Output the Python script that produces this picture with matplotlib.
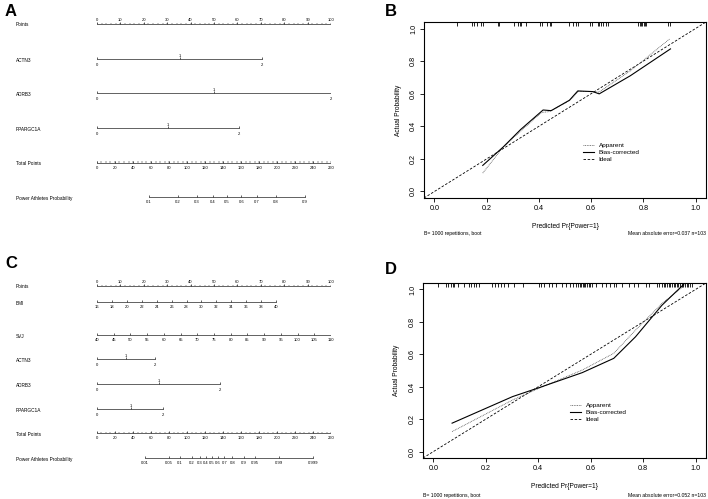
import numpy as np
import matplotlib
matplotlib.use("Agg")
import matplotlib.pyplot as plt
from matplotlib.lines import Line2D
import matplotlib.transforms as mtransforms

plt.rcParams['font.family'] = ['Liberation Sans', 'DejaVu Sans']

W, H = 708, 499

# ---------------- nomogram data ----------------
points_ticks = [0, 10, 20, 30, 40, 50, 60, 70, 80, 90, 100]
total_ticks = [0, 20, 40, 60, 80, 100, 120, 140, 160, 180, 200, 220, 240, 260]
levels = ['0', '1', '2']

# panel A: points for genotype levels 0/1/2
a_actn3 = [0, 35.3, 70.5]
a_adrb3 = [0, 50.0, 100.0]
a_ppargc1a = [0, 30.3, 60.7]
a_prob_ticks = [0.1, 0.2, 0.3, 0.4, 0.5, 0.6, 0.7, 0.8, 0.9]
a_lp_intercept, a_lp_slope = 144.4, 39.4   # total points = a + b*logit(p)

# panel C
c_bmi_ticks = [16, 18, 20, 22, 24, 26, 28, 30, 32, 34, 36, 38, 40]
c_bmi_points = (0, 76.5)
c_svj_ticks = [40, 45, 50, 55, 60, 65, 70, 75, 80, 85, 90, 95, 100, 105, 110]
c_svj_points = (0, 100)
c_actn3 = [0, 12.4, 24.8]
c_adrb3 = [0, 26.5, 52.6]
c_ppargc1a = [0, 14.5, 28.2]
c_prob_ticks = [0.01, 0.05, 0.1, 0.2, 0.3, 0.4, 0.5, 0.6, 0.7, 0.8, 0.9, 0.95, 0.99, 0.999]
c_lp_intercept, c_lp_slope = 127.9, 16.23

# ---------------- calibration data ----------------
b_app_x = [0.185, 0.264, 0.33, 0.41, 0.44, 0.52, 0.55, 0.61, 0.63, 0.75, 0.90]
b_app_y = [0.113, 0.274, 0.37, 0.485, 0.49, 0.56, 0.615, 0.612, 0.61, 0.74, 0.935]
b_bc_x = [0.185, 0.264, 0.33, 0.416, 0.447, 0.517, 0.549, 0.606, 0.631, 0.75, 0.904]
b_bc_y = [0.16, 0.274, 0.38, 0.50, 0.496, 0.56, 0.617, 0.613, 0.599, 0.71, 0.875]
b_rug = [0.086, 0.143, 0.152, 0.162, 0.177, 0.185, 0.245, 0.248, 0.304, 0.321, 0.327,
         0.333, 0.352, 0.406, 0.413, 0.431, 0.441, 0.447, 0.517, 0.532, 0.542, 0.549,
         0.596, 0.603, 0.625, 0.631, 0.637, 0.644, 0.657, 0.663, 0.781, 0.786, 0.791,
         0.796, 0.801, 0.806, 0.811, 0.895, 0.904]

d_app_x = [0.071, 0.302, 0.416, 0.568, 0.688, 0.771, 0.872, 0.961]
d_app_y = [0.123, 0.318, 0.400, 0.503, 0.606, 0.749, 0.914, 1.03]
d_bc_x = [0.071, 0.302, 0.403, 0.568, 0.688, 0.771, 0.872, 0.954]
d_bc_y = [0.175, 0.339, 0.394, 0.487, 0.575, 0.708, 0.903, 1.03]
d_rug = [0.017, 0.048, 0.057, 0.067, 0.074, 0.080, 0.093, 0.118, 0.137, 0.143, 0.156,
         0.162, 0.172, 0.223, 0.234, 0.245, 0.257, 0.270, 0.286, 0.308, 0.340, 0.403,
         0.412, 0.422, 0.441, 0.454, 0.466, 0.492, 0.507, 0.520, 0.532, 0.542, 0.553,
         0.558, 0.564, 0.570, 0.575, 0.580, 0.587, 0.593, 0.599, 0.606, 0.619, 0.644,
         0.659, 0.673, 0.688, 0.695, 0.720, 0.745, 0.764, 0.781, 0.812, 0.821, 0.853,
         0.859, 0.872, 0.878, 0.884, 0.891, 0.897, 0.903, 0.910, 0.916, 0.922, 0.929,
         0.935, 0.941, 0.948, 0.954, 0.960, 0.967, 0.973, 0.979, 0.986]


def box(x0, y0, x1, y1):
    return [x0 / W, 1 - y1 / H, (x1 - x0) / W, (y1 - y0) / H]


fig = plt.figure(figsize=(W / 100, H / 100), dpi=100)

LFS = 3.4   # row label size
TFS = 3.0   # nomogram tick label size
LINE = dict(color='#222222', lw=0.5)


def nomo_axis(ax, y, xs, labels, below=True, minor=None):
    ax.plot([xs[0], xs[-1]], [y, y], **LINE)
    ax.vlines(xs, y - 2, y, **LINE)
    if minor is not None:
        ax.vlines(minor, y - 1.2, y, color='#222222', lw=0.35)
    for x, lab in zip(xs, labels):
        ax.text(x, y + 5 if below else y - 4, lab, fontsize=TFS,
                ha='center', va='center')


def nomo_factor(ax, y, pts):
    ax.plot([pts[0], pts[-1]], [y, y], **LINE)
    ax.vlines(pts, y - 2, y, **LINE)
    for i, (x, lab) in enumerate(zip(pts, levels)):
        ax.text(x, y - 3.5 if i == 1 else y + 5.5, lab, fontsize=TFS,
                ha='center', va='center')


def logit(p):
    p = np.asarray(p)
    return np.log(p / (1 - p))


def nomogram(ax, rows, prob_ticks, lp_a, lp_b, y_tot, y_prob, top):
    ax.set_xlim(0, 100)
    ax.set_ylim(top + 250, top)
    ax.axis('off')
    lab_x = (16 - 97) / 234 * 100
    for name, y, kind, info in rows:
        ax.text(lab_x, y + 1, name, fontsize=LFS, ha='left', va='center')
        if kind == 'points':
            nomo_axis(ax, y, points_ticks, [str(t) for t in points_ticks],
                      below=False, minor=np.arange(0, 101, 2))
        elif kind == 'factor':
            nomo_factor(ax, y, info)
        elif kind == 'cont':
            ticks, (p0, p1) = info
            xs = p0 + (np.array(ticks) - ticks[0]) / (ticks[-1] - ticks[0]) * (p1 - p0)
            nomo_axis(ax, y, xs, [str(t) for t in ticks])
    # total points
    ax.text(lab_x, y_tot + 1, 'Total Points', fontsize=LFS, ha='left', va='center')
    scale = 100 / 260
    nomo_axis(ax, y_tot, np.array(total_ticks) * scale, [str(t) for t in total_ticks],
              minor=np.arange(0, 261, 5) * scale)
    # probability
    ax.text(lab_x, y_prob + 1, 'Power Athletes Probability', fontsize=LFS,
            ha='left', va='center')
    tp = (lp_a + lp_b * logit(prob_ticks)) * scale
    nomo_axis(ax, y_prob, tp, [f'{p:g}' for p in prob_ticks])


# ---- panel A ----
axA = fig.add_axes(box(97, 0, 331, 250))
rowsA = [('Points', 24, 'points', None),
         ('ACTN3', 59.5, 'factor', a_actn3),
         ('ADRB3', 93.5, 'factor', a_adrb3),
         ('PPARGC1A', 128.3, 'factor', a_ppargc1a)]
nomogram(axA, rowsA, a_prob_ticks, a_lp_intercept, a_lp_slope, 162.7, 197.3, 0)

# ---- panel C ----
axC = fig.add_axes(box(97, 250, 331, 499))
axC.set_ylim(499, 250)
rowsC = [('Points', 285.7, 'points', None),
         ('BMI', 302.3, 'cont', (c_bmi_ticks, c_bmi_points)),
         ('SVJ', 335, 'cont', (c_svj_ticks, c_svj_points)),
         ('ACTN3', 359.3, 'factor', c_actn3),
         ('ADRB3', 384, 'factor', c_adrb3),
         ('PPARGC1A', 409.3, 'factor', c_ppargc1a)]
nomogram(axC, rowsC, c_prob_ticks, c_lp_intercept, c_lp_slope, 433.3, 458.3, 250)
axC.set_ylim(499, 250)


# ---------------- calibration plots ----------------
def calib(ax, app_x, app_y, bc_x, bc_y, rug, mae, xl_y, fn_y, yl_x, leg_anchor):
    ax.set_xlim(-0.04, 1.04)
    ax.set_ylim(-0.04, 1.04)
    ax.axline((0, 0), (1, 1), color='black', lw=0.6, ls=(0, (3, 2)))
    ax.plot(app_x, app_y, color='#555555', lw=0.6, ls=(0, (1, 1)))
    ax.plot(bc_x, bc_y, color='black', lw=0.8)
    trans = mtransforms.blended_transform_factory(ax.transData, ax.transAxes)
    ax.vlines(rug, 1 - 4 / 176, 1, color='black', lw=0.6, transform=trans)
    ticks = [0.0, 0.2, 0.4, 0.6, 0.8, 1.0]
    ax.set_xticks(ticks, [f'{t:.1f}' for t in ticks])
    ax.set_yticks(ticks, [f'{t:.1f}' for t in ticks], rotation=90, va='center')
    ax.tick_params(labelsize=5.2, length=3, width=0.6, pad=2)
    for s in ax.spines.values():
        s.set_linewidth(0.8)
    ax.text(0.5, xl_y, 'Predicted Pr{Power=1}', transform=ax.transAxes,
            fontsize=4.8, ha='center', va='center')
    ax.text(yl_x, 0.5, 'Actual Probability', transform=ax.transAxes,
            fontsize=4.8, ha='center', va='center', rotation=90)
    ax.text(0, fn_y, 'B= 1000 repetitions, boot', transform=ax.transAxes,
            fontsize=3.7, ha='left', va='center')
    ax.text(1, fn_y, f'Mean absolute error={mae} n=103', transform=ax.transAxes,
            fontsize=3.7, ha='right', va='center')
    handles = [Line2D([], [], color='#555555', lw=0.6, ls=(0, (1, 1))),
               Line2D([], [], color='black', lw=0.8),
               Line2D([], [], color='black', lw=0.6, ls=(0, (3, 2)))]
    ax.legend(handles, ['Apparent', 'Bias-corrected', 'Ideal'], loc='upper left',
              bbox_to_anchor=leg_anchor, frameon=False, fontsize=4.6,
              handlelength=1.7, handletextpad=0.7, labelspacing=0.25,
              borderpad=0, borderaxespad=0)


axB = fig.add_axes(box(424, 22, 706, 198))
calib(axB, b_app_x, b_app_y, b_bc_x, b_bc_y, b_rug, '0.037',
      -0.16, -0.2, -0.092, (0.565, 0.315))

axD = fig.add_axes(box(423, 283, 706, 458))
calib(axD, d_app_x, d_app_y, d_bc_x, d_bc_y, d_rug, '0.052',
      -0.164, -0.217, -0.094, (0.52, 0.315))

# panel letters
for lab, x, y in [('A', 5, 11), ('B', 385, 11), ('C', 5, 263), ('D', 385, 269)]:
    fig.text(x / W, 1 - y / H, lab, fontsize=12, fontweight='bold',
             ha='left', va='center')

fig.savefig('out.png', dpi=100)
